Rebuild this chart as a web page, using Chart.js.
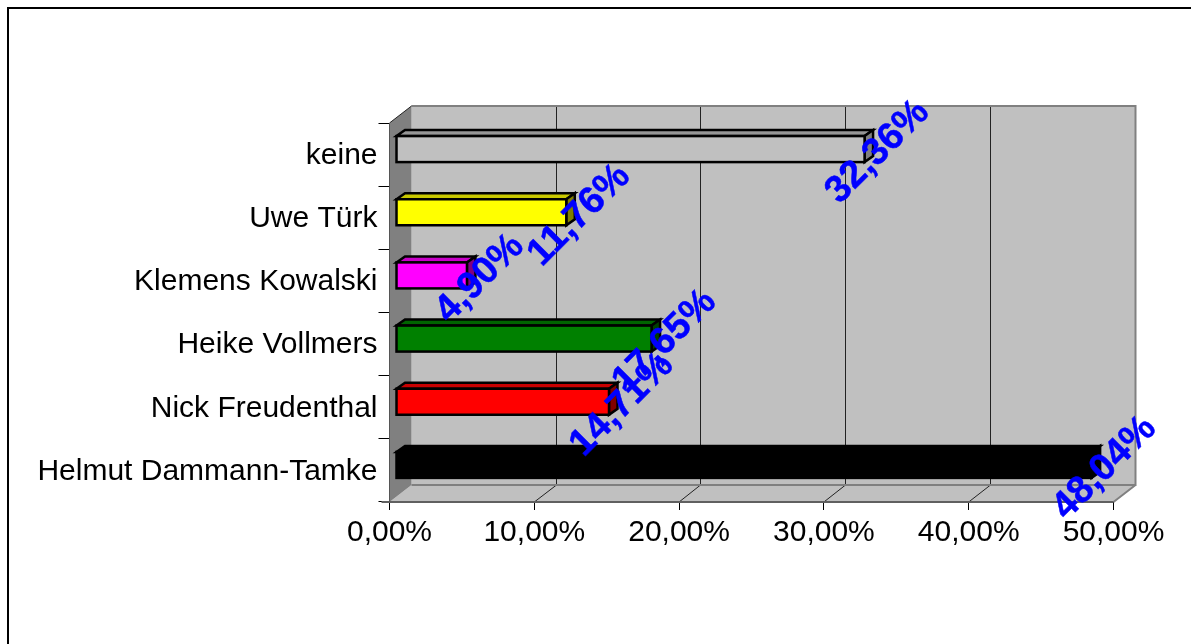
<!DOCTYPE html>
<html>
<head>
<meta charset="utf-8">
<style>
  html, body { margin: 0; padding: 0; background: #fff; overflow: hidden; }
  canvas { display: block; }
</style>
<script src="https://cdn.jsdelivr.net/npm/chart.js@4"></script>
</head>
<body>
<canvas id="chart" width="1191" height="644"></canvas>
<script>
const categories = ["keine", "Uwe Türk", "Klemens Kowalski", "Heike Vollmers", "Nick Freudenthal", "Helmut Dammann-Tamke"];
const values = [32.36, 11.76, 4.90, 17.65, 14.71, 48.04];
const barColors = ["#c0c0c0", "#ffff00", "#ff00ff", "#008000", "#ff0000", "#000000"];
const topColors = ["#969696", "#c8c800", "#c800c8", "#006400", "#c80000", "#000000"];
const sideColors = ["#808080", "#808000", "#800080", "#004000", "#800000", "#000000"];

const xMax = 50;
const xStep = 10;

function fmt(v) {
  return v.toFixed(2).replace(".", ",") + "%";
}

// back wall offset from the front plane, and where the bars sit inside that depth
const WALL_DX = 22, WALL_DY = -17;
const BAR_DX = 6.5, BAR_DY = -5.5;
const BAR_DEPTH_X = 8.5, BAR_DEPTH_Y = -6;
const BAR_LINE = 2.5;

function poly(ctx, pts, fill, stroke, lw) {
  ctx.beginPath();
  pts.forEach(([x, y], i) => (i ? ctx.lineTo(x, y) : ctx.moveTo(x, y)));
  ctx.closePath();
  if (fill) { ctx.fillStyle = fill; ctx.fill(); }
  if (stroke) { ctx.strokeStyle = stroke; ctx.lineWidth = lw; ctx.stroke(); }
}

const framePlugin = {
  id: "frame",
  beforeDraw(chart) {
    const { ctx } = chart;
    ctx.save();
    ctx.strokeStyle = "#000";
    ctx.lineWidth = 2;
    ctx.strokeRect(8, 8, 1300, 800);
    ctx.restore();
  },
  // walls go under the axes and the bars
  beforeDatasetsDraw(chart) {
    const { ctx, chartArea: a, scales } = chart;
    const { left: l, right: r, top: t, bottom: b } = a;
    const dx = WALL_DX, dy = WALL_DY;
    ctx.save();
    poly(ctx, [[l + dx, t + dy], [r + dx, t + dy], [r + dx, b + dy], [l + dx, b + dy]], "#c0c0c0");
    poly(ctx, [[l, b], [l + dx, b + dy], [r + dx, b + dy], [r, b]], "#c0c0c0");
    poly(ctx, [[l, t], [l + dx, t + dy], [l + dx, b + dy], [l, b]], "#808080");

    ctx.strokeStyle = "#222";
    ctx.lineWidth = 1;
    for (let v = xStep; v < xMax; v += xStep) {
      const x = scales.x.getPixelForValue(v);
      const xb = Math.floor(x + dx - 0.3) + 0.5;
      ctx.beginPath();
      ctx.moveTo(xb, t + dy);
      ctx.lineTo(xb, b + dy);
      ctx.lineTo(x, b);
      ctx.stroke();
    }

    ctx.strokeStyle = "#808080";
    ctx.lineWidth = 2;
    ctx.beginPath();
    ctx.moveTo(l + dx, t + dy);
    ctx.lineTo(r + dx, t + dy);
    ctx.lineTo(r + dx, b + dy);
    ctx.lineTo(l + dx, b + dy);
    ctx.moveTo(r + dx, b + dy);
    ctx.lineTo(r, b);
    ctx.stroke();

    ctx.strokeStyle = "#606060";
    ctx.beginPath();
    ctx.moveTo(r, b);
    ctx.lineTo(l - 8, b);
    ctx.stroke();

    ctx.strokeStyle = "#222";
    ctx.lineWidth = 1;
    ctx.beginPath();
    ctx.moveTo(l, t);
    ctx.lineTo(l + dx, t + dy);
    ctx.stroke();

    ctx.strokeStyle = "#555";
    ctx.beginPath();
    ctx.moveTo(l, t);
    ctx.lineTo(l, b);
    ctx.stroke();
    ctx.restore();

    // the bars get pushed into the box; restored in afterDatasetsDraw
    ctx.save();
    ctx.translate(BAR_DX, BAR_DY);
    chart.getDatasetMeta(0).data.forEach((bar, i) => {
      const h = bar.height / 2;
      const x0 = bar.base, x1 = bar.x, y0 = bar.y - h, y1 = bar.y + h;
      const ddx = BAR_DEPTH_X, ddy = BAR_DEPTH_Y;
      poly(ctx, [[x0, y0], [x0 + ddx, y0 + ddy], [x1 + ddx, y0 + ddy], [x1, y0]], topColors[i], "#000", BAR_LINE);
      poly(ctx, [[x1, y0], [x1 + ddx, y0 + ddy], [x1 + ddx, y1 + ddy], [x1, y1]], sideColors[i], "#000", BAR_LINE);
    });
  },
  afterDatasetsDraw(chart) {
    const { ctx, scales } = chart;
    chart.getDatasetMeta(0).data.forEach((bar) => {
      const h = bar.height / 2;
      ctx.strokeStyle = "#000";
      ctx.lineWidth = BAR_LINE;
      ctx.strokeRect(bar.base, bar.y - h, bar.x - bar.base, h * 2);
    });
    ctx.restore();
    ctx.save();
    ctx.font = "bold 38px 'Liberation Sans'";
    ctx.fillStyle = "#0000ff";
    ctx.strokeStyle = "#0000ff";
    ctx.lineWidth = 0.5;
    ctx.textAlign = "center";
    ctx.textBaseline = "middle";
    values.forEach((v, i) => {
      const x = scales.x.getPixelForValue(v) + BAR_DX + 13;
      const y = scales.y.getPixelForValue(i) + BAR_DY + 3;
      ctx.save();
      ctx.translate(x, y);
      ctx.rotate(-Math.PI / 4);
      ctx.fillText(fmt(v), 0, 0);
      ctx.strokeText(fmt(v), 0, 0);
      ctx.restore();
    });
    ctx.restore();
  },
};

new Chart(document.getElementById("chart"), {
  type: "bar",
  data: {
    labels: categories,
    datasets: [{
      data: values,
      backgroundColor: barColors,
      borderWidth: 0,
      barThickness: 26,
    }],
  },
  options: {
    indexAxis: "y",
    responsive: false,
    animation: false,
    layout: { padding: { top: 123, right: 77.5, left: 0, bottom: 0 } },
    plugins: { legend: { display: false }, tooltip: { enabled: false } },
    scales: {
      x: {
        min: 0,
        max: xMax,
        afterFit(s) { s.height = 142; },
        border: { display: false },
        grid: { drawOnChartArea: false, tickLength: 8, tickColor: "#000", tickWidth: 1 },
        ticks: {
          stepSize: xStep,
          maxRotation: 0,
          padding: 5,
          color: "#000",
          font: { family: "'Liberation Sans'", size: 30 },
          callback: (v) => fmt(v),
        },
      },
      y: {
        afterFit(s) { s.width = 389.5; },
        border: { display: false },
        grid: { drawOnChartArea: false, tickLength: 11, tickColor: "#000", tickWidth: 1 },
        ticks: {
          padding: 1,
          labelOffset: 1,
          color: "#000",
          font: { family: "'Liberation Sans'", size: 30 },
        },
      },
    },
  },
  plugins: [framePlugin],
});
</script>
</body>
</html>
